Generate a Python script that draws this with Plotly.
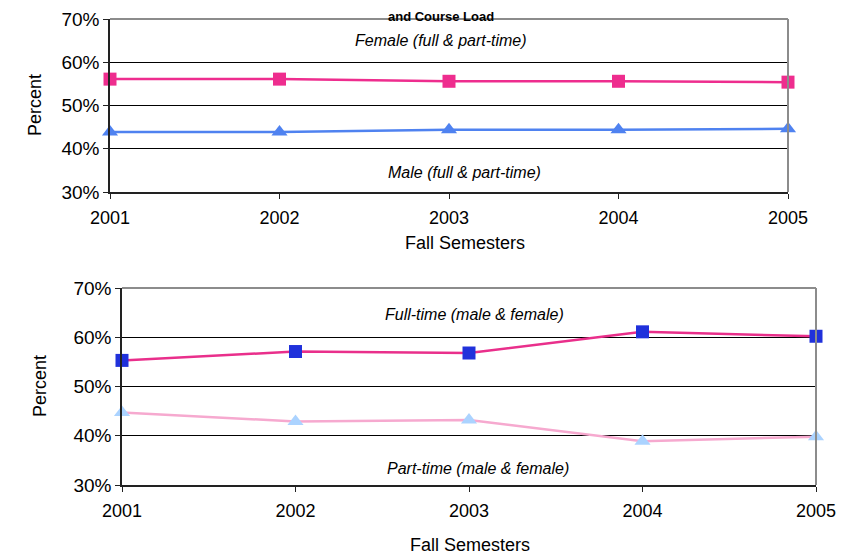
import plotly.graph_objects as go

years = [2001, 2002, 2003, 2004, 2005]
female = [56.1, 56.1, 55.6, 55.6, 55.4]
male = [43.9, 43.9, 44.4, 44.4, 44.6]
full_time = [55.3, 57.1, 56.8, 61.1, 60.2]
part_time = [44.7, 42.9, 43.2, 38.9, 39.8]
y_ticks = [30, 40, 50, 60, 70]
y_tick_labels = ["30%", "40%", "50%", "60%", "70%"]

# page has an 8px body margin, so figure is 842x547 and drawn at (8, 8)
OFF = 8
W, H = 850 - OFF, 555 - OFF
FONT = "Liberation Sans, Arial, sans-serif"

def px_x(a, b):
    return [(a - OFF) / W, (b - OFF) / W]

def px_y(top, bottom):
    return [1 - (bottom - OFF) / H, 1 - (top - OFF) / H]

def pxx(a):
    return (a - OFF) / W

def pxy(a):
    return 1 - (a - OFF) / H

fig = go.Figure()

fig.add_trace(go.Scatter(x=years, y=female, mode="lines+markers", xaxis="x", yaxis="y",
                         cliponaxis=False,
                         line=dict(color="#EE2D8E", width=2.5),
                         marker=dict(symbol="square", size=13, color="#EE2D8E")))
fig.add_trace(go.Scatter(x=years, y=male, mode="lines+markers", xaxis="x", yaxis="y",
                         cliponaxis=False,
                         line=dict(color="#4F82F0", width=2.5),
                         marker=dict(symbol="triangle-up", size=14, color="#4F82F0")))
fig.add_trace(go.Scatter(x=years, y=full_time, mode="lines+markers", xaxis="x2", yaxis="y2",
                         cliponaxis=False,
                         line=dict(color="#E92F8B", width=2.5),
                         marker=dict(symbol="square", size=13, color="#2031DB")))
fig.add_trace(go.Scatter(x=years, y=part_time, mode="lines+markers", xaxis="x2", yaxis="y2",
                         cliponaxis=False,
                         line=dict(color="#F6A9CF", width=2.5),
                         marker=dict(symbol="triangle-up", size=14, color="#ABD3FF")))

def xaxis(domain, anchor):
    return dict(domain=domain, anchor=anchor, range=[2001, 2005], tickvals=years,
                ticktext=[str(y) for y in years], showgrid=False, zeroline=False,
                showline=True, linecolor="#222222", linewidth=1.5, ticks="outside",
                ticklen=5, tickcolor="#222222", mirror=False, automargin=False,
                ticklabelstandoff=4,
                tickfont=dict(family=FONT, size=18, color="#000000"))

def yaxis(domain, anchor):
    return dict(domain=domain, anchor=anchor, range=[30, 70], tickvals=y_ticks,
                ticktext=y_tick_labels, showgrid=True, gridcolor="#000000", gridwidth=1,
                zeroline=False, showline=True, linecolor="#222222", linewidth=1.5,
                ticks="outside", ticklen=5, tickcolor="#222222", automargin=False,
                tickfont=dict(family=FONT, size=19, color="#000000"))

fig.update_layout(
    width=W, height=H, margin=dict(l=0, r=0, t=0, b=0),
    paper_bgcolor="white", plot_bgcolor="white", showlegend=False,
    xaxis=xaxis(px_x(110, 788), "y"),
    yaxis=yaxis(px_y(19, 192), "x"),
    xaxis2=xaxis(px_x(122, 816), "y2"),
    yaxis2=yaxis(px_y(288, 485), "x2"),
)

# gray frame on top/right of plot areas
for (x0, x1, y0, y1) in [(110, 788, 19, 192), (122, 816, 288, 485)]:
    fig.add_shape(type="line", xref="paper", yref="paper",
                  x0=pxx(x0), x1=pxx(x1), y0=pxy(y0), y1=pxy(y0),
                  line=dict(color="#8C8C8C", width=2))
    fig.add_shape(type="line", xref="paper", yref="paper",
                  x0=pxx(x1), x1=pxx(x1), y0=pxy(y0), y1=pxy(y1),
                  line=dict(color="#8C8C8C", width=2))

ann_font = dict(family=FONT, size=16, color="#000000")
notes = [
    ("<i>Female (full & part-time)</i>", "x", "y", 2002.95, 65.1),
    ("<i>Male (full & part-time)</i>", "x", "y", 2003.09, 34.4),
    ("<i>Full-time (male & female)</i>", "x2", "y2", 2003.03, 64.7),
    ("<i>Part-time (male & female)</i>", "x2", "y2", 2003.05, 33.25),
]
for text, xr, yr, xv, yv in notes:
    fig.add_annotation(text=text, xref=xr, yref=yr, x=xv, y=yv, showarrow=False, font=ann_font)

title_font = dict(family=FONT, size=18, color="#000000")
for text, xv, yv, ang in [("Percent", 35, 105, -90), ("Percent", 40, 386, -90),
                          ("Fall Semesters", 465, 243, 0), ("Fall Semesters", 470, 545, 0)]:
    fig.add_annotation(text=text, xref="paper", yref="paper", x=pxx(xv), y=pxy(yv),
                       xanchor="center", yanchor="middle", textangle=ang,
                       showarrow=False, font=title_font)

fig.add_annotation(text="<b>and Course Load</b>", xref="paper", yref="paper",
                   x=pxx(441), y=pxy(8), yanchor="top", showarrow=False,
                   borderpad=0, font=dict(family=FONT, size=13, color="#000000"))

fig.write_html("out.html")
